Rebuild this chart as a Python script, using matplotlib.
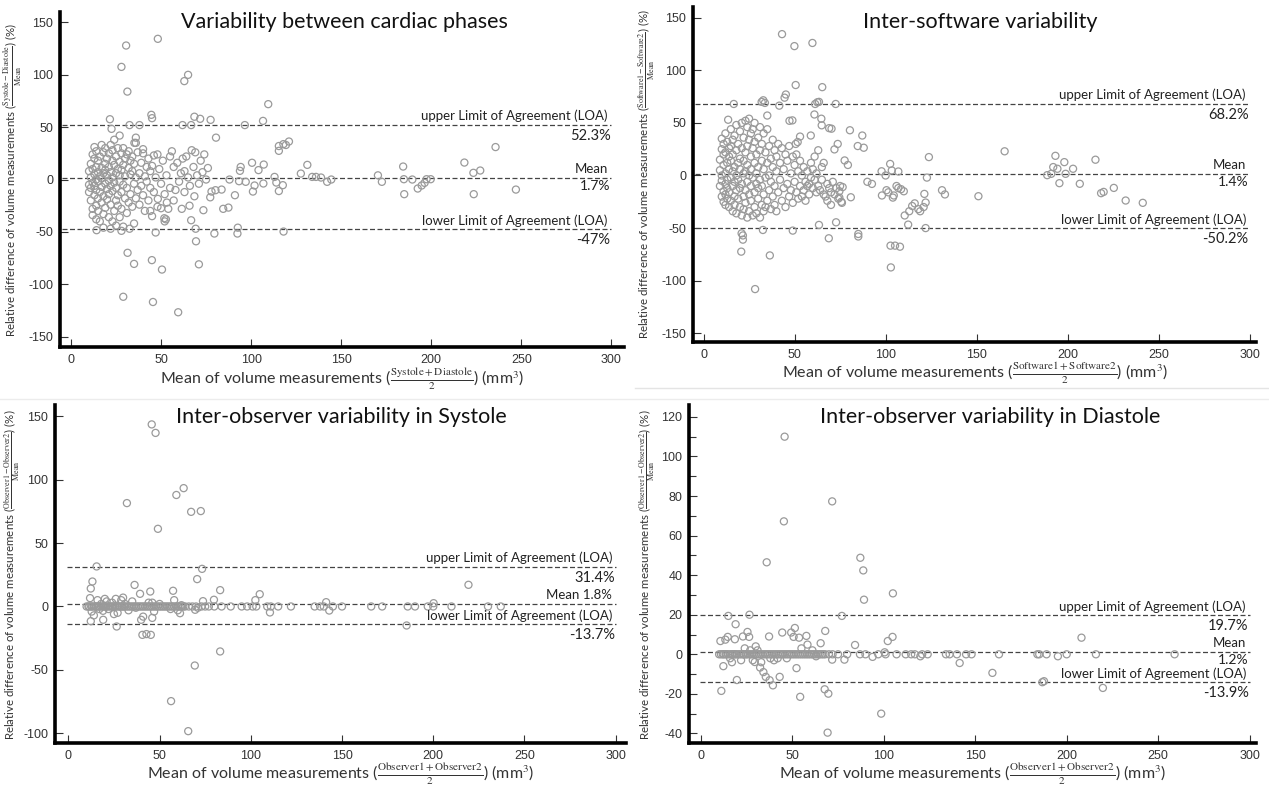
import matplotlib
matplotlib.use("Agg")
import matplotlib.pyplot as plt
from matplotlib import font_manager
from matplotlib.lines import Line2D
from matplotlib.ticker import MultipleLocator

installed = {f.name for f in font_manager.fontManager.ttflist}
text_font = 'Lato' if 'Lato' in installed else 'DejaVu Sans'
tick_font = next((n for n in ['Liberation Sans Narrow', 'Liberation Sans'] if n in installed), 'DejaVu Sans')

plt.rcParams['font.family'] = [text_font, 'DejaVu Sans']
plt.rcParams['mathtext.fontset'] = 'stix'
plt.rcParams['axes.unicode_minus'] = False

# ---- Variability between cardiac phases ----
cardiac_x = [10, 10, 10, 11, 11, 11, 11, 12, 12, 12,
             12, 12, 13, 13, 13, 13, 13, 14, 14, 14,
             14, 14, 15, 15, 15, 15, 15, 16, 16, 16,
             16, 17, 17, 17, 17, 17, 18, 18, 18, 18,
             19, 19, 19, 19, 19, 20, 20, 20, 20, 21,
             21, 21, 21, 21, 22, 22, 22, 22, 23, 23,
             23, 23, 23, 24, 24, 24, 24, 25, 25, 25,
             25, 25, 26, 26, 26, 26, 27, 27, 27, 27,
             28, 28, 28, 28, 29, 29, 29, 29, 30, 30,
             30, 31, 31, 31, 32, 32, 32, 33, 33, 33,
             34, 34, 34, 35, 35, 35, 36, 36, 37, 37,
             38, 38, 39, 39, 40, 40, 41, 41, 42, 42,
             43, 43, 44, 44, 45, 46, 46, 47, 48, 49,
             50, 51, 52, 53, 54, 55, 55, 56, 57, 58,
             59, 60, 61, 62, 63, 64, 65, 66, 67, 68,
             69, 70, 71, 72, 73, 74, 75, 76, 45, 52,
             36, 40, 44, 27, 18, 22, 14, 48, 57, 63,
             48.2, 30.6, 28, 31.3, 65, 62.9, 109.5, 21.6, 22.5, 32.5,
             38, 44.6, 45, 61.9, 66.7, 68.5, 71.7, 77.5, 96.5, 106.6,
             80.5, 36, 35.2, 121, 115.4, 117.9, 119.3, 115.4, 235.7, 218.4,
             223.4, 227.2, 223.6, 247, 184.4, 184.8, 185, 189.5, 192.5, 194.7,
             196.3, 197.4, 199.7, 170.4, 172.6, 131.2, 127.6, 133.9, 136, 138.8,
             142.2, 144.5, 113, 114, 115.4, 117.6, 100.5, 104.1, 107, 106.8,
             101, 101.9, 97, 93.3, 93.8, 94.2, 91, 88, 87.4, 84.5,
             83.6, 80.2, 118, 92.6, 92.4, 79.6, 77.3, 78, 73.5, 68.5,
             66.7, 65.8, 61.5, 69.2, 69.4, 71, 47, 44.9, 50.5, 31.4,
             35, 29, 45.5, 59.5, 14.2, 28, 32.5, 52.7, 51.8, 48.2,
             50, 53.2]
cardiac_y = [-5, 8, -12, 2, -20, 15, -8, 24, -3, 10,
             -28, -34, 31, 5, -15, 20, -6, -25, 12, 0,
             -10, 27, 18, -2, -18, 7, -30, -40, 22, 3,
             -12, 33, -7, 11, -22, 1, 26, -16, 6, -33,
             15, -4, -27, 30, 9, -9, 20, -19, 4, -36,
             12, -1, 25, -14, 33, -24, 7, -6, -40, 18,
             2, -11, 28, -30, 14, -3, 38, 22, -20, 6,
             -8, -44, 30, -15, 10, -25, -2, 17, -36, 4,
             25, -12, -28, 9, -45, 14, -5, 30, 20, -18,
             3, -8, 24, -32, 11, -22, 27, -14, 5, 18,
             -26, 8, 22, -4, -42, 15, 2, -18, 26, -10,
             6, -24, 16, -6, 29, -15, 3, -30, 12, -2,
             20, -20, -8, 8, 13, -12, 23, 2, -26, 10,
             -4, 18, -14, 4, -28, 22, -8, 27, 12, -10,
             16, -2, 6, 20, -12, 22, 2, -6, 28, 12,
             26, 4, -4, 18, 7, 24, 0, 11, -35, -40,
             35, 25, -30, 42, -46, -47, -38, 24, -20, 8,
             134.4, 128, 107.6, 84, 100, 94, 72, 57.6, 48.4, 52,
             52, 61.8, 58.6, 52, 52, 60, 58, 57, 52, 56,
             40, 40, 35, 36.3, 32, 33.8, 33, 27.4, 31, 16.2,
             6.4, 8.6, -14, -9.6, 12.4, 0.3, -14, 0, -8.6, -5.7,
             -3.2, 0.3, 0.3, 4, -2.2, 14, 5.7, 2.5, 2.5, 1.9,
             -2.2, 0, 2.5, -2.9, -11, -5.4, 16, 9, 14.3, -3.8,
             -11.5, -5.7, -2.2, -1.6, 8.3, 12, -15, 0, -26.8, -28,
             -9.6, -10.2, -49.7, -46, -51.6, -51.6, -17, -11.5, -29.3, -16,
             -38.9, -25, -28, -47, -59, -81, -50.6, -77, -86, -70,
             -80.6, -112, -117, -126.8, -48.4, -49, -47, -38, -37, -18.5,
             -27.4, -22]

# ---- Inter-software variability ----
software_x = [9, 9, 9, 10, 10, 10, 10, 10, 11, 11,
              11, 11, 11, 12, 12, 12, 12, 12, 12, 13,
              13, 13, 13, 13, 14, 14, 14, 14, 14, 15,
              15, 15, 15, 15, 16, 16, 16, 16, 16, 17,
              17, 17, 17, 17, 18, 18, 18, 18, 18, 19,
              19, 19, 19, 20, 20, 20, 20, 20, 21, 21,
              21, 21, 22, 22, 22, 22, 22, 23, 23, 23,
              23, 23, 24, 24, 24, 24, 24, 25, 25, 25,
              25, 25, 26, 26, 26, 26, 26, 27, 27, 27,
              27, 28, 28, 28, 28, 28, 29, 29, 29, 29,
              30, 30, 30, 30, 31, 31, 31, 31, 32, 32,
              32, 32, 33, 33, 33, 33, 34, 34, 34, 35,
              35, 35, 36, 36, 36, 37, 37, 37, 38, 38,
              38, 39, 39, 39, 40, 40, 40, 41, 41, 42,
              42, 43, 43, 44, 44, 45, 45, 46, 46, 47,
              47, 48, 48, 49, 49, 50, 50, 51, 51, 52,
              52, 53, 53, 54, 54, 55, 55, 56, 56, 57,
              57, 58, 58, 59, 59, 60, 60, 61, 61, 62,
              62, 63, 63, 64, 65, 65, 66, 66, 67, 68,
              68, 69, 70, 70, 71, 72, 73, 74, 75, 76,
              43.1, 49.9, 59.8, 50.6, 65.2, 45.2, 44.5, 41.6, 32.8, 31.9,
              33.7, 16.6, 62.5, 63.4, 61.3, 72.6, 60.9, 64.7, 64.9, 47.2,
              48.8, 35, 13.5, 80.4, 87.2, 84.7, 88, 73.7, 71.9, 69,
              70.3, 58.9, 53, 51.7, 50.6, 77.5, 79.3, 97.8, 102.5, 103.4,
              100, 107, 90, 92.5, 98, 100.5, 104, 101.5, 106, 107,
              108.5, 110, 104.5, 123.8, 122.7, 121.3, 122, 120.9, 119, 118,
              114.6, 116, 113, 110.5, 112.4, 122, 131, 132.6, 151, 165.4,
              188.8, 191, 192.1, 193.3, 194.4, 195.5, 198.2, 198.9, 203, 206.7,
              215.3, 218.4, 219.8, 225.4, 231.9, 241.3, 102.9, 102.7, 105.2, 107.9,
              85, 85, 72.8, 68.8, 63.4, 49, 32.6, 36.4, 28.3, 20.7,
              21.6, 21.6, 20.9, 80.9, 76.4, 74.6, 74.6, 75.7]
software_y = [5, -10, 15, -20, 25, 0, -5, 35, 10, -15,
              30, -25, 20, -8, 40, 2, -18, 22, -28, 12,
              -4, 32, -22, -12, 18, 6, -30, 26, -16, 44,
              -2, 14, -24, 28, -10, 34, 4, -34, 20, -20,
              8, 38, -6, -28, 24, -14, 48, 0, -36, 12,
              -22, 30, -4, 42, -30, 16, -12, 6, -38, 26,
              -8, 50, 2, -20, 36, -32, 14, -14, 22, 52,
              -26, 4, -40, 28, -6, 46, 10, -18, 34, 54,
              -34, 0, 18, -24, 40, -10, 6, -38, 26, -2,
              44, -16, 12, -30, 32, 50, -8, 20, -36, 2,
              36, -22, 8, -12, 24, -40, -4, 46, 14, -28,
              30, -10, -34, 6, 40, -18, 22, -2, -30, 12,
              -24, 44, 28, -14, 0, -32, 16, -6, 34, -20,
              8, -28, 24, -10, 4, -34, 18, 30, -16, -4,
              12, -24, 26, -12, 6, -30, 20, 14, -8, -20,
              28, 2, -14, 18, -26, -6, 10, -16, 20, -22,
              4, -10, 14, -20, 0, -14, 8, -6, -24, -10,
              4, -8, -18, -2, 12, -12, 6, -4, 18, -16,
              2, -10, 24, -14, 8, -4, -18, 12, -20, -8,
              -24, -12, -16, -28, -6, -18, -12, -22, -10, -26,
              134.4, 123, 126, 86, 84, 77, 74, 66.4, 71.5, 70,
              69, 68, 69.6, 70, 68, 68, 58, 54, 47.7, 52,
              52.4, 57, 53, 43, 38, 28, 26.4, 30, 24.8, 45,
              44.5, 38, 37, 31.8, 30, 14.3, 10, 4, 11, 4.8,
              0, 3.8, -6, -8, -19, -14, -21, -16, -10, -12,
              -13, -15, -19, 17.5, -2, -17.5, -25.7, -30, -34, -32,
              -29, -26.5, -34, -38, -46.7, -50, -14, -18, -19.7, 23,
              0.3, 1.6, 8, 18.7, 6.4, -7.3, 12.7, 1.6, 6.4, -7.9,
              15, -16.8, -15.6, -11.8, -23.8, -26, -87.4, -66.7, -66.7, -67.7,
              -55.6, -58, -44.5, -59.7, -47, -52.4, -51.8, -76, -108, -72.4,
              -57, -61, -55, -20.7, -11, -15, -21, -25]

# ---- Inter-observer variability in Systole ----
systole_x = [45.7, 47.8, 32.1, 63.2, 59.2, 67.3, 72.6, 49.1, 15.5, 73.3,
             70.6, 13.2, 12.3, 11.9, 36.3, 39.3, 44.9, 57.4, 83.2, 73.8,
             104.9, 102.5, 219.3, 200.2, 141.3, 79.8, 12.8, 19, 12.3, 19.1,
             26.5, 39.9, 41, 46, 40.6, 42.8, 45.2, 61.2, 69.5, 110.5,
             143, 185.4, 83.2, 69.3, 56.3, 65.7,
             16, 18, 21, 22, 24, 26, 27, 29, 31, 33,
             35, 44, 47, 50, 56, 58, 60, 62, 71, 20,
             25, 30, 37, 46, 14, 17,
             10, 11, 11.5, 12.5, 13, 14, 15, 15.5, 16.5, 17,
             18, 19, 19.5, 20.5, 21, 22, 23, 24, 24.5, 25.5,
             26, 27, 28, 29, 29.5, 30.5, 31, 32, 33, 34,
             35, 36, 37, 38, 39, 40, 41, 42, 43, 44,
             45, 46, 47, 48, 49, 50, 51, 52, 53, 54,
             55, 56, 57, 58, 59, 60, 61, 62, 63, 64,
             66, 68, 70, 73, 75, 77, 80, 84, 89, 95,
             98, 101, 103, 109, 111, 115, 122, 135, 138, 140,
             145, 150, 166, 172, 186, 190, 197, 200, 210, 230,
             237]
systole_y = [143.7, 137, 81.6, 93.4, 88, 74.7, 75.3, 61.3, 31.6, 29.7,
             21.6, 19.7, 14.2, 6.6, 17, 10, 11.8, 12.4, 12.9, 4.2,
             9.7, 5, 17.1, 2.6, 3.4, 5.3, -4, -3.4, -11.6, -10.5,
             -15.8, -10.5, -8, -9, -22.4, -21.8, -22.4, -5.3, -2.6, -4.7,
             -3.2, -15, -35.5, -46.6, -74.7, -98.4,
             5, 2, 4, -2, 3, 6, -5, 5, 2, -3,
             4, 3, -4, 2, -2, 5, -3, 1, -1, 6,
             -6, 7, -1, 3, -7, -2,
             0, 0, 0, 0, 0, 0, 0, 0, 0, 0,
             0, 0, 0, 0, 0, 0, 0, 0, 0, 0,
             0, 0, 0, 0, 0, 0, 0, 0, 0, 0,
             0, 0, 0, 0, 0, 0, 0, 0, 0, 0,
             0, 0, 0, 0, 0, 0, 0, 0, 0, 0,
             0, 0, 0, 0, 0, 0, 0, 0, 0, 0,
             0, 0, 0, 0, 0, 0, 0, 0, 0, 0,
             0, 0, 0, 0, 0, 0, 0, 0, 0, 0,
             0, 0, 0, 0, 0, 0, 0, 0, 0, 0,
             0]

# ---- Inter-observer variability in Diastole ----
diastole_x = [45.8, 71.8, 45.4, 36, 87.2, 88.8, 105, 89.2, 15, 26.6,
              77.1, 19, 51.4, 68, 10.7, 13.4, 14.7, 18.6, 23, 25.5,
              26.4, 37.3, 44.5, 49.4, 50.7, 53.7, 57.7, 58.3, 65.5, 84.3,
              102.2, 104.8, 208.1, 12.3, 19.7, 11.2, 28.4, 29.5, 32.4, 34.2,
              35.5, 37.6, 39.4, 43.1, 52.3, 54.3, 67.7, 69.7, 69.3, 78.5,
              71.8, 93.9, 98.6, 120, 141.5, 159.4, 186.7, 187.6, 219.8, 195.2,
              24, 27, 30, 31, 22, 17, 16, 40, 42, 33,
              38, 61, 55, 47, 63, 100.5,
              10, 11, 12, 12.5, 13.5, 14, 15, 16, 17, 17.5,
              18.5, 19, 20, 21, 22, 23, 23.5, 24.5, 25, 26,
              27, 28, 29, 30, 31, 32, 33, 34, 35, 36,
              37, 38, 39, 40, 41, 42, 43, 44, 45, 46,
              47, 48, 49, 50, 51, 52, 53, 54, 55, 56,
              57, 58, 59, 60, 61, 62, 63, 64, 65, 66,
              67, 68, 70, 72, 75, 80, 87, 90, 97, 101,
              107, 112, 115, 117, 121, 124, 134, 136, 140, 145,
              148, 163, 184, 185, 189, 200, 216, 259]
diastole_y = [110, 77.3, 67.2, 46.5, 48.8, 42.4, 30.8, 27.6, 19.4, 20,
              19.4, 15.2, 13.3, 11.8, 6.7, 7.4, 8.8, 7.6, 9, 11.3,
              8.8, 9, 11, 11, 8.8, 8.4, 9.3, 4.9, 5.6, 4.7,
              6.7, 8.8, 8.4, -6, -13, -18.5, -3, -3.9, -6.7, -9,
              -11.4, -13.1, -15.7, -11.4, -7, -21.5, -17.7, -19.9, -39.6, -2.7,
              -2.7, -1.3, -30, -1, -4.4, -9.4, -14.1, -13.6, -17, -1,
              3, 2, 4, 2, -3, -4, -2, -3, -2, -4,
              -2, 2, 3, -2, -1, 1,
              0, 0, 0, 0, 0, 0, 0, 0, 0, 0,
              0, 0, 0, 0, 0, 0, 0, 0, 0, 0,
              0, 0, 0, 0, 0, 0, 0, 0, 0, 0,
              0, 0, 0, 0, 0, 0, 0, 0, 0, 0,
              0, 0, 0, 0, 0, 0, 0, 0, 0, 0,
              0, 0, 0, 0, 0, 0, 0, 0, 0, 0,
              0, 0, 0, 0, 0, 0, 0, 0, 0, 0,
              0, 0, 0, 0, 0, 0, 0, 0, 0, 0,
              0, 0, 0, 0, 0, 0, 0, 0]

titles = ['Variability between cardiac phases', 'Inter-software variability',
          'Inter-observer variability in Systole', 'Inter-observer variability in Diastole']
pair_names = [('Systole', 'Diastole'), ('Software1', 'Software2'),
              ('Observer1', 'Observer2'), ('Observer1', 'Observer2')]
upper_loa = [52.3, 68.2, 31.4, 19.7]
mean_bias = [1.7, 1.4, 1.8, 1.2]
lower_loa = [-47, -50.2, -13.7, -13.9]
upper_txt = ['52.3%', '68.2%', '31.4%', '19.7%']
mean_txt = ['1.7%', '1.4%', '1.8%', '1.2%']
lower_txt = ['-47%', '-50.2%', '-13.7%', '-13.9%']

# layout (figure fractions), limits and title spots
boxes = [[0.0473, 0.5585, 0.4444, 0.4262],
         [0.5464, 0.5645, 0.4432, 0.4270],
         [0.0435, 0.0543, 0.4496, 0.4304],
         [0.5432, 0.0543, 0.4464, 0.4304]]
xlims = [(-6.1, 307), (-5.6, 303.4), (-7.2, 305.5), (-6.3, 303.4)]
ylims = [(-160, 160), (-158.6, 160.5), (-108, 159), (-45, 126)]
ysteps = [50, 50, 50, 20]
line_start = [-5, -4.5, -0.5, -0.5]
title_pos = [(0.504, 0.952), (0.51, 0.937), (0.502, 0.947), (0.531, 0.947)]
ylabel_pads = [3, 3, 1, 3]

data = [(cardiac_x, cardiac_y), (software_x, software_y),
        (systole_x, systole_y), (diastole_x, diastole_y)]

fig = plt.figure(figsize=(12.69, 7.86), dpi=100)
line_col = '#444444'
pt_col = '#9a9a9a'
txt_col = '#222222'

for i in range(4):
    ax = fig.add_axes(boxes[i])
    xs, ys = data[i]
    ax.scatter(xs, ys, s=26, facecolors='none', edgecolors=pt_col, linewidths=0.9, zorder=3)

    for v in (upper_loa[i], mean_bias[i], lower_loa[i]):
        ax.plot([line_start[i], 300], [v, v], color=line_col, lw=0.9,
                dashes=(4, 2), zorder=2)

    ax.set_xlim(*xlims[i])
    ax.set_ylim(*ylims[i])
    ax.xaxis.set_major_locator(MultipleLocator(50))
    ax.yaxis.set_major_locator(MultipleLocator(ysteps[i]))
    if i == 3:
        ax.yaxis.set_minor_locator(MultipleLocator(10))
        ax.tick_params(axis='y', which='minor', direction='in', length=5, width=0.8, color='#333333')
    for s in ('top', 'right'):
        ax.spines[s].set_visible(False)
    for s in ('left', 'bottom'):
        ax.spines[s].set_linewidth(2.6)
    ax.tick_params(which='major', direction='in', length=6, width=0.8, color='#333333',
                   labelsize=9, labelcolor='#333333', pad=5)
    for lab in ax.get_xticklabels() + ax.get_yticklabels():
        lab.set_fontfamily(tick_font)

    a, b = pair_names[i]
    ax.set_ylabel(r'Relative difference of volume measurements ($\frac{\mathrm{%s-%s}}{\mathrm{Mean}}$) (%%)' % (a, b),
                  fontsize=8.3, color='#333333', labelpad=ylabel_pads[i])
    ax.set_xlabel(r'Mean of volume measurements ($\frac{\mathrm{%s+%s}}{2}$) (mm$^3$)' % (a, b),
                  fontsize=11.5, color='#333333', labelpad=0)
    ax.text(title_pos[i][0], title_pos[i][1], titles[i], transform=ax.transAxes,
            ha='center', va='baseline', fontsize=15.5, color='#111111')

    kw = dict(ha='right', textcoords='offset points', color=txt_col)
    ax.annotate('upper Limit of Agreement (LOA)', (298, upper_loa[i]), xytext=(0, 2),
                va='bottom', fontsize=9.5, **kw)
    ax.annotate(upper_txt[i], (299.5, upper_loa[i]), xytext=(0, -3), va='top', fontsize=10.5, **kw)
    if i == 2:
        ax.annotate('Mean 1.8%', (298, mean_bias[i]), xytext=(0, 2), va='bottom', fontsize=9.5, **kw)
    else:
        ax.annotate('Mean', (298, mean_bias[i]), xytext=(0, 2), va='bottom', fontsize=9.5, **kw)
        ax.annotate(mean_txt[i], (299.5, mean_bias[i]), xytext=(0, -1.5), va='top', fontsize=10, **kw)
    ax.annotate('lower Limit of Agreement (LOA)', (298, lower_loa[i]), xytext=(0, 1.5),
                va='bottom', fontsize=9.5, **kw)
    ax.annotate(lower_txt[i], (299.5, lower_loa[i]), xytext=(0, -3), va='top', fontsize=10.5, **kw)

# faint separators of the composite image
fig.add_artist(Line2D([0.5, 1.0], [1 - 388 / 786] * 2, color='#e4e4e4', lw=1))
fig.add_artist(Line2D([0.0, 1.0], [1 - 399 / 786] * 2, color='#ececec', lw=1))

fig.savefig('out.png', dpi=100)
